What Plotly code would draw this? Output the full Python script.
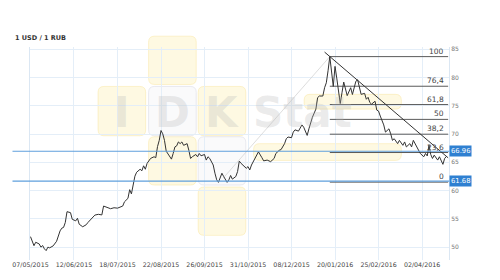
import plotly.graph_objects as go

TITLE = "1 USD / 1 RUB"

# trading-day index and USD/RUB rate
DAY = [0, 2, 3, 5, 6, 7, 8, 9, 10, 11, 13, 15, 17, 18, 19, 20, 21, 23, 24, 26,
       27, 28, 30, 32, 33, 35, 37, 39, 41, 42, 45, 46, 48, 50, 53, 54, 56, 57, 58, 59,
       60, 61, 63, 64, 65, 66, 67, 69, 71, 72, 73, 74, 75, 76, 77, 78, 79, 81, 82, 83,
       84, 85, 86, 87, 88, 90, 91, 92, 93, 95, 96, 97, 98, 100, 101, 102, 103, 105, 106, 107,
       108, 109, 110, 111, 113, 114, 115, 116, 118, 119, 120, 121, 122, 124, 125, 126, 127, 128, 130, 131,
       133, 134, 136, 138, 140, 141, 143, 144, 146, 147, 148, 150, 151, 152, 154, 155, 156, 157, 159, 160,
       161, 162, 164, 165, 166, 168, 169, 170, 171, 172, 174, 175, 176, 178, 179, 180, 182, 184, 185, 187,
       188, 189, 190, 192, 193, 194, 195, 196, 198, 199, 200, 201, 202, 203, 204, 206, 207, 208, 209, 211,
       212, 214, 215, 216, 218, 219, 220, 221, 223, 224, 226, 227, 228, 229, 230, 231, 232, 234, 235, 236,
       237, 238, 239]
RATE = [51.86, 50.26, 50.87, 50.57, 50.00, 50.29, 49.70, 49.39, 50.00, 49.88, 50.22, 51.04, 52.88, 53.36, 53.49, 54.36, 56.28, 56.10, 54.93, 54.65,
        55.11, 54.06, 53.61, 53.96, 54.36, 54.93, 55.67, 55.81, 55.70, 57.27, 56.97, 56.80, 56.97, 56.90, 57.27, 58.02, 58.63, 60.17, 59.42, 60.81,
        62.55, 63.25, 63.78, 63.51, 64.39, 63.78, 64.82, 65.69, 65.99, 65.82, 67.79, 68.89, 70.63, 70.05, 68.89, 66.97, 66.57, 65.57, 66.57, 67.73,
        67.91, 68.61, 68.31, 68.61, 68.01, 68.31, 67.14, 65.69, 65.99, 66.39, 65.99, 66.57, 66.16, 66.39, 65.40, 65.99, 65.69, 64.53, 63.08, 61.91,
        61.46, 62.21, 63.08, 62.50, 61.46, 61.91, 62.68, 62.03, 62.50, 63.37, 65.22, 64.82, 64.53, 63.95, 64.25, 63.65, 64.53, 65.12, 66.39, 66.86,
        65.82, 65.26, 65.40, 65.12, 65.69, 66.57, 67.14, 67.26, 68.31, 69.18, 69.48, 69.36, 70.35, 70.75, 70.52, 71.22, 71.62, 71.22, 69.76, 70.93,
        72.09, 72.97, 74.41, 76.45, 76.73, 76.73, 78.20, 79.07, 81.20, 83.70, 78.43, 81.97, 79.90, 75.40, 77.30, 79.20, 76.80, 78.20, 77.00, 79.35,
        79.60, 78.20, 77.03, 77.20, 76.16, 76.50, 75.58, 75.29, 75.81, 74.24, 74.07, 73.19, 72.37, 71.62, 70.35, 70.93, 70.05, 68.89, 69.18, 68.31,
        68.89, 68.01, 68.61, 67.73, 68.31, 67.73, 68.89, 68.31, 67.32, 66.57, 65.99, 66.57, 66.13, 68.05, 66.39, 65.69, 66.27, 65.40, 65.99, 65.40,
        64.65, 65.69, 66.04]

TICK_DAYS = [0, 25, 50, 75, 100, 125, 150, 175, 200, 225]
TICK_LABELS = ["07/05/2015", "12/06/2015", "18/07/2015", "22/08/2015", "26/09/2015",
               "31/10/2015", "08/12/2015", "20/01/2016", "25/02/2016", "02/04/2016"]
Y_TICKS = [50, 55, 60, 65, 70, 75, 80, 85]

LEVELS = [66.96, 61.68]
LEVEL_LABELS = ["66.96", "61.68"]

FIB_LOW, FIB_HIGH = 61.5, 83.7
FIB_RATIOS = [0, 23.6, 38.2, 50, 61.8, 76.4, 100]
FIB_LABELS = ["0", "23,6", "38,2", "50", "61,8", "76,4", "100"]
FIB_DAYS = [172, 240]

TREND_DAYS = [169, 240]
TREND_RATE = [84.5, 65.8]
SWING_DAYS = [111, 172]
SWING_RATE = [62.3, 83.7]

X_RANGE = [-0.28, 240.5]
Y_RANGE = [47.73, 85.4]

# figure geometry (pixels) for decorative watermark placement
L, R, T, B, W, H = 18, 51, 47, 17, 500, 280
PW, PH = W - L - R, H - T - B


def px(x):
    return (x - L) / PW


def py(y):
    return (H - B - y) / PH


def rrect(x0, y0, x1, y1, r=6):
    a0, a1, b0, b1 = px(x0), px(x1), py(y1), py(y0)
    rx, ry = r / PW, r / PH
    return (f"M{a0+rx},{b0} L{a1-rx},{b0} Q{a1},{b0} {a1},{b0+ry} L{a1},{b1-ry} "
            f"Q{a1},{b1} {a1-rx},{b1} L{a0+rx},{b1} Q{a0},{b1} {a0},{b1-ry} "
            f"L{a0},{b0+ry} Q{a0},{b0} {a0+rx},{b0} Z")


fig = go.Figure()

shapes = []
yellow = [(140, 36, 189, 85), (88, 87, 137, 137), (191, 87, 240, 137),
          (140, 138, 189, 187), (191, 189, 240, 238), (248, 145, 400, 162),
          (300, 95, 400, 110)]
whiteish = [(140, 87, 189, 137), (191, 138, 240, 187)]
for b in yellow:
    shapes.append(dict(type="path", path=rrect(*b), xref="paper", yref="paper",
                       fillcolor="rgba(253,236,160,0.30)", line=dict(color="rgba(245,222,130,0.35)", width=1),
                       layer="below"))
for b in whiteish:
    shapes.append(dict(type="path", path=rrect(*b), xref="paper", yref="paper",
                       fillcolor="rgba(245,245,248,0.5)", line=dict(color="rgba(215,215,225,0.5)", width=1),
                       layer="below"))

for lv in LEVELS:
    shapes.append(dict(type="line", xref="paper", yref="y", x0=-L / PW, x1=1, y0=lv, y1=lv,
                       line=dict(color="#5f9fdc", width=1.2), layer="above"))

annotations = []
for ch, cx in [("I", 112.5), ("D", 164.5), ("K", 215.5)]:
    annotations.append(dict(text="<b>" + ch + "</b>", xref="paper", yref="paper", x=px(cx), y=py(113),
                            showarrow=False, font=dict(family="DejaVu Sans", size=42, color="rgba(185,185,185,0.3)"),
                            xanchor="center", yanchor="middle"))
annotations.append(dict(text="<b>Stat</b>", xref="paper", yref="paper", x=px(245), y=py(113),
                        showarrow=False, font=dict(family="DejaVu Sans", size=42, color="rgba(185,185,185,0.3)"),
                        xanchor="left", yanchor="middle"))

fig.add_trace(go.Scatter(x=SWING_DAYS, y=SWING_RATE, mode="lines",
                         line=dict(color="#d4d4d4", width=0.8), hoverinfo="skip"))

for ratio, lab in zip(FIB_RATIOS, FIB_LABELS):
    val = FIB_LOW + (FIB_HIGH - FIB_LOW) * ratio / 100
    fig.add_trace(go.Scatter(x=FIB_DAYS, y=[val, val], mode="lines",
                             line=dict(color="#5a5a5a", width=1), hoverinfo="skip"))
    annotations.append(dict(text=lab, x=FIB_DAYS[1] - 1, y=val, xref="x", yref="y",
                            showarrow=False, xanchor="right", yanchor="bottom", yshift=-1,
                            font=dict(family="DejaVu Sans", size=7.5, color="#444")))

fig.add_trace(go.Scatter(x=TREND_DAYS, y=TREND_RATE, mode="lines",
                         line=dict(color="#333333", width=1), hoverinfo="skip"))

fig.add_trace(go.Scatter(x=DAY, y=RATE, mode="lines",
                         line=dict(color="#333333", width=1)))

for lv, lab in zip(LEVELS, LEVEL_LABELS):
    annotations.append(dict(text=lab, x=1, y=lv, xref="paper", yref="y", showarrow=False,
                            xanchor="left", yanchor="middle", bgcolor="#2f80d1", borderpad=1,
                            font=dict(family="DejaVu Sans", size=6.8, color="white")))

annotations.append(dict(text="<b>" + TITLE + "</b>", xref="paper", yref="paper",
                        x=px(1), y=py(37.5), showarrow=False, xanchor="left", yanchor="middle",
                        font=dict(family="DejaVu Sans", size=6.5, color="#333")))

fig.update_layout(
    width=W, height=H,
    margin=dict(l=L, r=R, t=T, b=B),
    paper_bgcolor="white", plot_bgcolor="white",
    showlegend=False,
    shapes=shapes, annotations=annotations,
    xaxis=dict(range=X_RANGE, tickmode="array", tickvals=TICK_DAYS, ticktext=TICK_LABELS,
               showgrid=True, gridcolor="#e4eef8", gridwidth=1, zeroline=False,
               showline=False, ticks="", tickfont=dict(family="DejaVu Sans", size=6.3, color="#444")),
    yaxis=dict(range=Y_RANGE, side="right", tickmode="array", tickvals=Y_TICKS,
               showgrid=True, gridcolor="#e4eef8", gridwidth=1, zeroline=False,
               showline=True, linecolor="#dbe7f3", mirror=True, ticks="",
               tickfont=dict(family="DejaVu Sans", size=6, color="#777")),
)

fig.write_html("out.html")
